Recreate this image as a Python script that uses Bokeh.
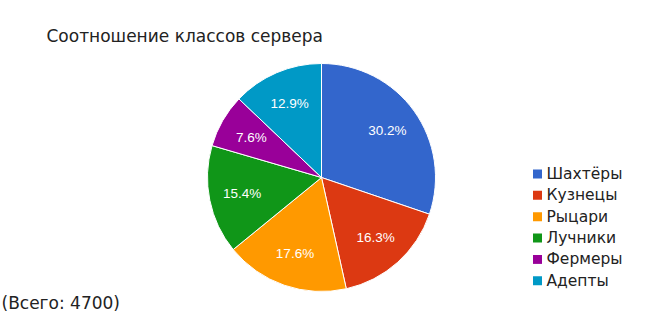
import math
from bokeh.plotting import figure
from bokeh.models import Range1d, ColumnDataSource
from bokeh.core.properties import value
from bokeh.embed import file_html
from bokeh.resources import INLINE

# ---- data ----
categories = ["Шахтёры", "Кузнецы", "Рыцари", "Лучники", "Фермеры", "Адепты"]
counts = [1420, 766, 827, 724, 357, 606]
colors = ["#3366cc", "#dc3912", "#ff9900", "#109618", "#990099", "#0099c6"]
title_text = "Соотношение классов сервера"
total_text = "(Всего: 4700)"

W, H = 650, 316
p = figure(width=W, height=H, output_backend="svg", toolbar_location=None,
           x_range=Range1d(0, W), y_range=Range1d(0, H), min_border=0)
p.axis.visible = False
p.grid.visible = False
p.outline_line_color = None
p.background_fill_color = "white"

cx, cy, r = 321, H - 177, 114
total = sum(counts)
starts, ends, lx, ly, labels = [], [], [], [], []
cum = 0.0
for c in counts:
    a0 = math.pi / 2 - 2 * math.pi * cum / total
    cum += c
    a1 = math.pi / 2 - 2 * math.pi * cum / total
    starts.append(a0)
    ends.append(a1)
    mid = (a0 + a1) / 2
    lx.append(cx + 0.71 * r * math.cos(mid))
    ly.append(cy + 0.71 * r * math.sin(mid))
    labels.append(f"{100 * c / total:.1f}%")

src = ColumnDataSource(dict(start=starts, end=ends, color=colors, lx=lx, ly=ly, label=labels))
p.wedge(x=cx, y=cy, radius=r, start_angle="start", end_angle="end", direction="clock",
        fill_color="color", line_color="white", line_width=1, source=src)
p.text(x="lx", y="ly", text="label", source=src, text_color="white",
       text_font=value("Liberation Sans"), text_font_size="13.5px",
       text_align="center", text_baseline="middle")

# title
p.text(x=[46], y=[H - 35], text=[title_text], text_font=value("DejaVu Sans"),
       text_font_size="17px", text_color="#222222", text_baseline="middle")

# legend
ys = [H - (173.5 + i * 21.35) for i in range(len(categories))]
lsrc = ColumnDataSource(dict(x=[537] * len(categories), y=ys, color=colors,
                             tx=[546] * len(categories), label=categories))
p.rect(x="x", y="y", width=9, height=9, fill_color="color", line_color=None, source=lsrc)
p.text(x="tx", y="y", text="label", source=lsrc, text_font=value("DejaVu Sans"),
       text_font_size="15.5px", text_color="#222222", text_baseline="middle")

# total
p.text(x=[1], y=[H - 302], text=[total_text], text_font=value("DejaVu Sans"),
       text_font_size="17px", text_color="#222222", text_baseline="middle")

open("out.html", "w").write(file_html(p, INLINE))
